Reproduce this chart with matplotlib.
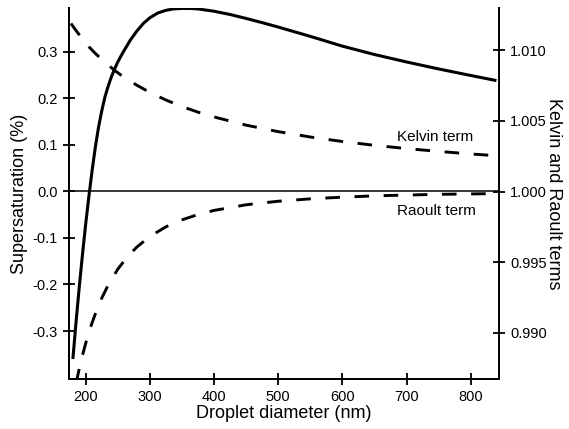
import matplotlib
matplotlib.use("Agg")
import matplotlib.pyplot as plt

plt.rcParams["font.family"] = ["Liberation Sans", "DejaVu Sans"]

# Kohler curve: supersaturation (%) vs droplet diameter (nm), left axis
diam_s = [180, 185, 190, 195, 200, 205, 210, 215, 220, 225, 230, 235, 240,
          245, 250, 255, 260, 270, 280, 290, 300, 312, 325, 337, 350, 362,
          375, 400, 425, 450, 475, 500, 525, 550, 575, 600, 650, 700, 750,
          800, 840]
supersat = [-0.36, -0.28, -0.205, -0.135, -0.07, -0.01, 0.045, 0.095, 0.138,
            0.173, 0.203, 0.226, 0.246, 0.263, 0.278, 0.291, 0.303, 0.326,
            0.345, 0.361, 0.373, 0.383, 0.389, 0.392, 0.393, 0.393, 0.392,
            0.387, 0.380, 0.3715, 0.3625, 0.353, 0.343, 0.333, 0.3225, 0.312,
            0.294, 0.278, 0.263, 0.249, 0.238]

# Kelvin and Raoult terms, right axis
diam_k = [177, 185, 195, 205, 215, 230, 245, 260, 280, 300, 325, 350, 375,
          400, 450, 500, 550, 600, 650, 700, 750, 800, 838]
kelvin = [1.0119, 1.0114, 1.0108, 1.01025, 1.00978, 1.00915, 1.00858,
          1.00808, 1.00752, 1.00702, 1.00648, 1.00602, 1.00562, 1.00528,
          1.00470, 1.00424, 1.00386, 1.00354, 1.00327, 1.00304, 1.00284,
          1.00266, 1.00254]

diam_r = [185, 190, 195, 200, 205, 210, 218, 225, 235, 250, 265, 280, 300,
          325, 350, 375, 400, 450, 500, 550, 600, 650, 700, 750, 800, 838]
raoult = [0.98642, 0.98746, 0.98840, 0.98925, 0.99002, 0.99071, 0.99170,
          0.99245, 0.99337, 0.99450, 0.99538, 0.99608, 0.99681, 0.99750,
          0.99799, 0.99837, 0.99866, 0.99906, 0.99931, 0.99948, 0.99960,
          0.99969, 0.99975, 0.99980, 0.99983, 0.99985]

x_ticks = [200, 300, 400, 500, 600, 700, 800]
left_ticks = [-0.3, -0.2, -0.1, 0.0, 0.1, 0.2, 0.3]
right_ticks = [0.990, 0.995, 1.000, 1.005, 1.010]

fig = plt.figure(figsize=(5.69, 4.29), dpi=100)
ax = fig.add_axes([0.1213, 0.1166, 0.7557, 0.8648])
ax2 = ax.twinx()

# Main curve and zero line
ax.plot(diam_s, supersat, color="black", lw=2.2, solid_capstyle="butt")
ax.axhline(0.0, color="black", lw=1.1)

# Dashed component terms
ax2.plot(diam_k, kelvin, color="black", lw=2.1, dashes=(5, 5))
ax2.plot(diam_r, raoult, color="black", lw=2.1, dashes=(5, 5))

ax.set_xlim(174, 844)
ax.set_ylim(-0.403, 0.394)
ax2.set_ylim(0.98672, 1.01300)

ax.set_xticks(x_ticks)
ax.set_yticks(left_ticks)
ax.set_yticklabels([f"{v:.1f}" for v in left_ticks])
ax2.set_yticks(right_ticks)
ax2.set_yticklabels([f"{v:.3f}" for v in right_ticks])

for a in (ax, ax2):
    a.spines["top"].set_visible(False)
    for s in a.spines.values():
        s.set_linewidth(1.4)
ax.spines["right"].set_visible(False)

ax.tick_params(axis="both", direction="inout", length=8, width=1.3,
               labelsize=10.5, pad=4)
ax2.tick_params(axis="y", direction="inout", length=8, width=1.3,
                labelsize=10.5, pad=4)

ax.set_xlabel("Droplet diameter (nm)", fontsize=13, labelpad=1)
ax.set_ylabel("Supersaturation (%)", fontsize=13, labelpad=3)
ax2.set_ylabel("Kelvin and Raoult terms", fontsize=13, rotation=270,
               labelpad=11)

ax.text(744, 0.117, "Kelvin term", fontsize=11, ha="center", va="center")
ax.text(746, -0.043, "Raoult term", fontsize=11, ha="center", va="center")

fig.savefig("out.png", dpi=100)
